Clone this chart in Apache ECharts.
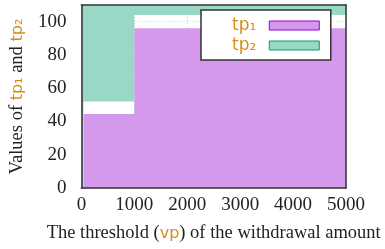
<!DOCTYPE html>
<html>
<head>
<meta charset="utf-8">
<script src="https://cdn.jsdelivr.net/npm/echarts@6/dist/echarts.min.js"></script>
<style>
  html, body { margin: 0; padding: 0; background: #fff; }
  #chart { width: 385px; height: 249px; }
</style>
</head>
<body>
<div id="chart"></div>
<script>
// step data: [threshold, value]
const tp1Points = [[40, 44.5], [1000, 96], [5000, 96]]
const tp2Points = [[0, 0], [40, 52], [1000, 104], [5000, 104]]
const seriesNames = ['tp₁', 'tp₂']
const xTicks = { min: 0, max: 5000, interval: 1000 }
const yTicks = { min: 0, max: 110, interval: 20 }

const purpleFill = '#d499ed'
const purpleEdge = '#9400d3'
const greenFill = '#99d8c7'
const greenEdge = '#009e73'
const orange = '#dc8c14'
const frame = '#333'

const serif = 'Liberation Serif'
const sans = 'DejaVu Sans'

const chart = echarts.init(document.getElementById('chart'))

const gridLine = { show: true, lineStyle: { color: '#cfcfcf', type: [1, 2], width: 1 } }

// frame-only axis, drawn above the fills
function frameAxis (position, range) {
  return {
    type: 'value',
    position: position,
    min: range.min,
    max: range.max,
    z: 10,
    axisLine: { show: true, onZero: false, lineStyle: { color: frame, width: 1.5 } },
    axisTick: { show: false },
    axisLabel: { show: false },
    splitLine: { show: false }
  }
}

const option = {
  animation: false,
  backgroundColor: '#fff',
  grid: { left: 81, right: 39, top: 5, bottom: 61 },
  legend: {
    orient: 'vertical',
    align: 'right',
    left: 201,
    top: 10,
    padding: [7, 11, 6, 31],
    itemGap: 3,
    itemWidth: 50,
    itemHeight: 9,
    backgroundColor: '#fff',
    borderColor: frame,
    borderWidth: 1.5,
    borderRadius: 0,
    textStyle: { color: orange, fontFamily: sans, fontSize: 17, lineHeight: 16, padding: [0, 8, 0, 0] },
    data: [
      { name: seriesNames[0], icon: 'rect', itemStyle: { color: purpleFill, borderColor: purpleEdge, borderWidth: 1 } },
      { name: seriesNames[1], icon: 'rect', itemStyle: { color: greenFill, borderColor: greenEdge, borderWidth: 1 } }
    ]
  },
  xAxis: [
    {
      type: 'value',
      min: xTicks.min,
      max: xTicks.max,
      interval: xTicks.interval,
      axisLine: { show: false },
      axisTick: { show: false },
      splitLine: gridLine,
      axisLabel: { color: '#222', fontFamily: serif, fontSize: 19, margin: 8, formatter: v => String(v) },
      name: '{a|The threshold (}{b|vp}{a|) of the withdrawal amount}',
      nameLocation: 'middle',
      nameGap: 36,
      nameTextStyle: {
        rich: {
          a: { fontFamily: serif, fontSize: 18.5, color: '#222' },
          b: { fontFamily: sans, fontSize: 16, color: orange }
        }
      }
    },
    frameAxis('bottom', xTicks),
    frameAxis('top', xTicks)
  ],
  yAxis: [
    {
      type: 'value',
      min: yTicks.min,
      max: yTicks.max,
      interval: yTicks.interval,
      axisLine: { show: false },
      axisTick: { show: false },
      splitLine: gridLine,
      axisLabel: { color: '#222', fontFamily: serif, fontSize: 19, margin: 15, showMaxLabel: false },
      name: '{a|Values of }{b|tp₁}{a| and }{b|tp₂}',
      nameLocation: 'middle',
      nameGap: 52,
      nameRotate: 90,
      nameTextStyle: {
        rich: {
          a: { fontFamily: serif, fontSize: 18.5, color: '#222' },
          b: { fontFamily: sans, fontSize: 16, color: orange }
        }
      }
    },
    frameAxis('left', yTicks),
    frameAxis('right', yTicks)
  ],
  series: [
    {
      name: seriesNames[1],
      type: 'line',
      step: 'end',
      symbol: 'none',
      data: tp2Points,
      itemStyle: { color: greenFill },
      lineStyle: { width: 0 },
      areaStyle: { color: greenFill, opacity: 1, origin: 'end' }
    },
    {
      name: seriesNames[0],
      type: 'line',
      step: 'end',
      symbol: 'none',
      data: tp1Points,
      itemStyle: { color: purpleFill },
      lineStyle: { width: 0 },
      areaStyle: { color: purpleFill, opacity: 1, origin: 'start' }
    }
  ]
}

chart.setOption(option)
</script>
</body>
</html>
